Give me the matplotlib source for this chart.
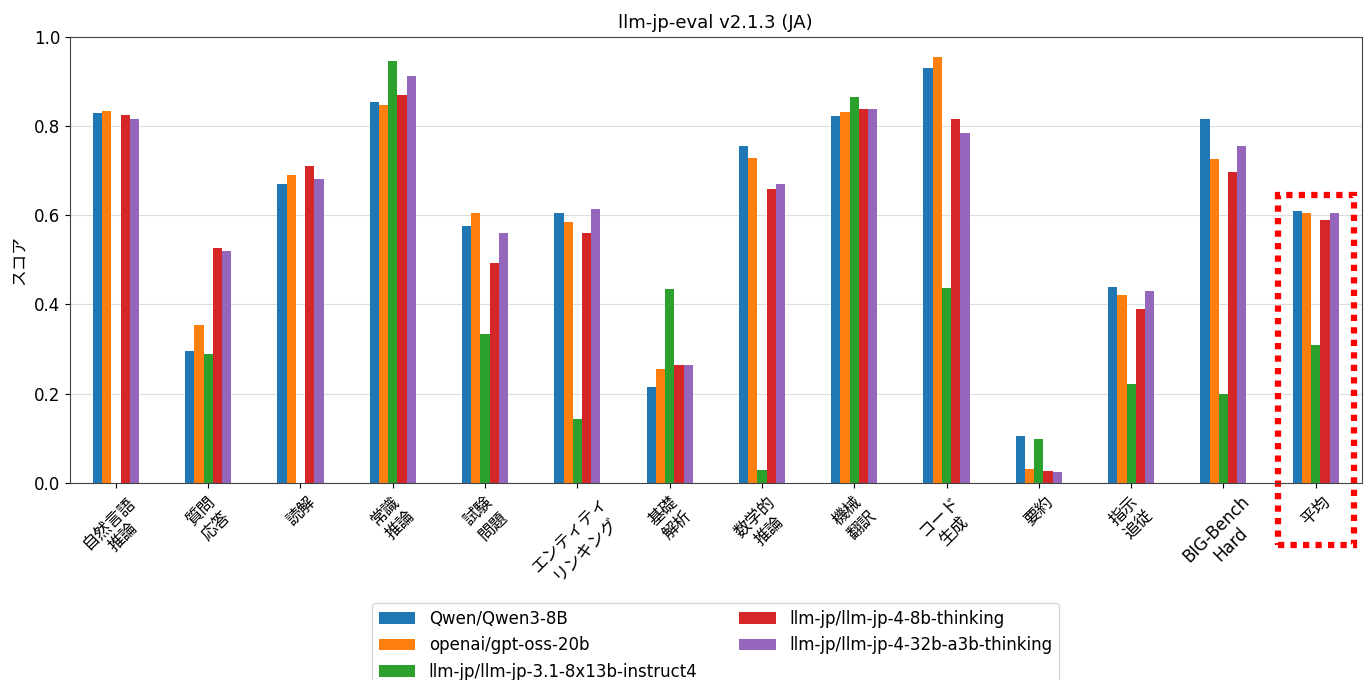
import matplotlib
matplotlib.use("Agg")
import matplotlib.pyplot as plt
import numpy as np
from matplotlib.patches import Rectangle

plt.rcParams['font.family'] = ['DejaVu Sans', 'Noto Sans CJK JP']

# ----- data ------------------------------------------------------------------------------------------------------ #

categories = ["自然言語\n推論", "質問\n応答", "読解", "常識\n推論", "試験\n問題", "エンティティ\nリンキング",
              "基礎\n解析", "数学的\n推論", "機械\n翻訳", "コード\n生成", "要約", "指示\n追従",
              "BIG-Bench\nHard", "平均"]

models = ["Qwen/Qwen3-8B", "openai/gpt-oss-20b", "llm-jp/llm-jp-3.1-8x13b-instruct4",
          "llm-jp/llm-jp-4-8b-thinking", "llm-jp/llm-jp-4-32b-a3b-thinking"]

qwen3_8b = [0.830, 0.295, 0.670, 0.854, 0.575, 0.604, 0.215, 0.754, 0.823, 0.930, 0.104, 0.440, 0.815, 0.609]
gpt_oss_20b = [0.833, 0.353, 0.690, 0.847, 0.604, 0.585, 0.256, 0.728, 0.831, 0.955, 0.032, 0.421, 0.725, 0.605]
llmjp31_8x13b = [np.nan, 0.289, np.nan, 0.945, 0.334, 0.144, 0.434, 0.029, 0.865, 0.436, 0.099, 0.221, 0.200, 0.308]
llmjp4_8b = [0.824, 0.526, 0.711, 0.870, 0.492, 0.560, 0.265, 0.659, 0.838, 0.815, 0.027, 0.390, 0.696, 0.590]
llmjp4_32b = [0.815, 0.520, 0.680, 0.911, 0.559, 0.614, 0.263, 0.669, 0.839, 0.785, 0.024, 0.430, 0.756, 0.605]

series = [qwen3_8b, gpt_oss_20b, llmjp31_8x13b, llmjp4_8b, llmjp4_32b]
colors = ['#1f77b4', '#ff7f0e', '#2ca02c', '#d62728', '#9467bd']

# ----- plot ----------------------------------------------------------------------------------------------------- #

fig = plt.figure(figsize=(13.68, 6.8), dpi=100)
ax = fig.add_axes([0.051, 0.290, 0.9445, 0.656])

x = np.arange(len(categories))
bar_w = 0.1
for i, (vals, name, c) in enumerate(zip(series, models, colors)):
    offset = (i - 2) * bar_w
    ax.bar(x + offset, vals, bar_w, color=c, label=name)

ax.set_xlim(-0.5, len(categories) - 0.5)
ax.set_ylim(0, 1.0)
ax.set_xticks(x)
ax.set_xticklabels(categories, rotation=45, ha='center', multialignment='center', fontsize=12)
ax.set_yticks(np.arange(0, 1.01, 0.2))
ax.set_yticklabels([f"{v:.1f}" for v in np.arange(0, 1.01, 0.2)], fontsize=12)
ax.set_ylabel("スコア", fontsize=12)
ax.set_title("llm-jp-eval v2.1.3 (JA)", fontsize=13)
ax.grid(axis='y', color='#dddddd', linewidth=0.8)
ax.set_axisbelow(True)
for s in ax.spines.values():
    s.set_color('#444444')

# highlight the average group
hl = Rectangle((12.59, -0.139), 0.82, 0.785, transform=ax.transData, fill=False,
               edgecolor='red', linewidth=4.5, linestyle=(0, (1, 1)), clip_on=False)
ax.add_patch(hl)

fig.legend(loc='upper center', bbox_to_anchor=(0.523, 0.125), ncol=2, fontsize=12,
           handlelength=2.2, columnspacing=2.5, frameon=True)

fig.savefig("out.png", dpi=100)
